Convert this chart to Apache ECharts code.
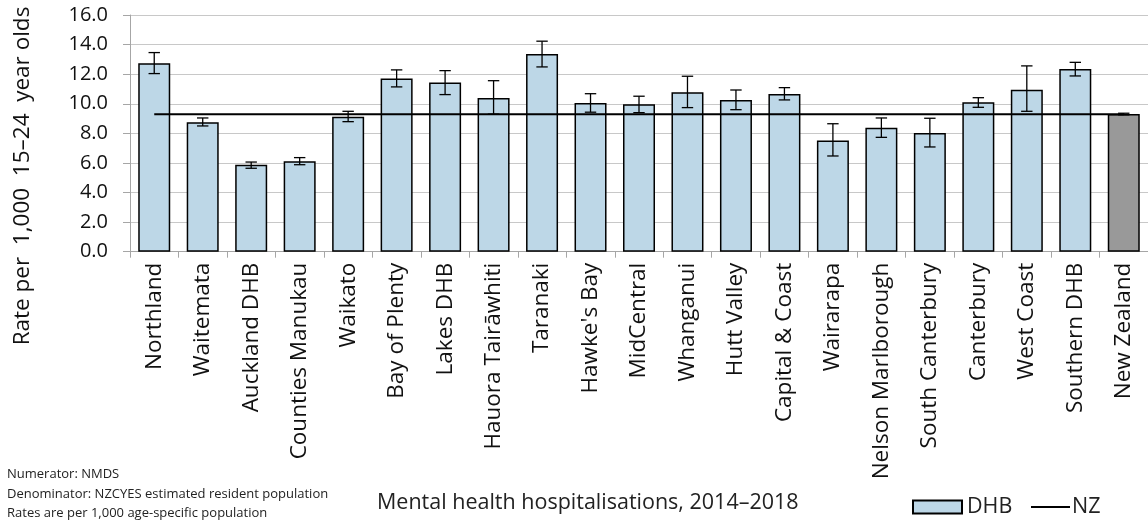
<!DOCTYPE html>
<html>
<head>
<meta charset="utf-8">
<script src="https://cdn.jsdelivr.net/npm/echarts@6/dist/echarts.min.js"></script>
<style>
html,body{margin:0;padding:0;background:#fff;}
#chart{width:1148px;height:526px;}
</style>
</head>
<body>
<div id="chart"></div>
<script>
const categories = ["Northland","Waitemata","Auckland DHB","Counties Manukau","Waikato","Bay of Plenty","Lakes DHB","Hauora Tairāwhiti","Taranaki","Hawke's Bay","MidCentral","Whanganui","Hutt Valley","Capital & Coast","Wairarapa","Nelson Marlborough","South Canterbury","Canterbury","West Coast","Southern DHB","New Zealand"];
const rates   = [12.74, 8.75, 5.88, 6.11, 9.13, 11.70, 11.43, 10.39, 13.37, 10.05, 9.97, 10.78, 10.26, 10.66, 7.51, 8.38, 8.03, 10.10, 10.95, 12.35, 9.31];
const ciLower = [12.04, 8.50, 5.64, 5.88, 8.79, 11.14, 10.62, 9.30, 12.49, 9.43, 9.40, 9.74, 9.60, 10.26, 6.47, 7.73, 7.08, 9.76, 9.49, 11.88, 9.25];
const ciUpper = [13.46, 9.04, 6.06, 6.36, 9.49, 12.29, 12.24, 11.56, 14.23, 10.68, 10.51, 11.86, 10.93, 11.09, 8.65, 9.04, 9.02, 10.41, 12.56, 12.80, 9.36];
const nzLine  = [9.29, 9.29, 9.29, 9.29, 9.29, 9.29, 9.29, 9.29, 9.29, 9.29, 9.29, 9.29, 9.29, 9.29, 9.29, 9.29, 9.29, 9.29, 9.29, 9.29, 9.29];
const yTicks = {min: 0, max: 16, interval: 2};
const yTitle = "Rate per  1,000  15–24  year olds";
const chartTitle = "Mental health hospitalisations, 2014–2018";
const footnotes = ["Numerator: NMDS", "Denominator: NZCYES estimated resident population", "Rates are per 1,000 age-specific population"];

const FONT = "'Open Sans', 'Noto Sans', sans-serif";
const chart = echarts.init(document.getElementById('chart'));

const barData = rates.map((v, i) => ({
  value: v,
  itemStyle: categories[i] === "New Zealand" ? {color: '#999999'} : undefined
}));
const errData = rates.map((v, i) => [i, ciLower[i], ciUpper[i]]);

chart.setOption({
  animation: false,
  textStyle: {fontFamily: FONT},
  title: [
    {text: chartTitle, left: 377, top: 492, padding: 0, textStyle: {fontFamily: FONT, fontSize: 21.5, fontWeight: 'normal', color: '#222'}},
    {text: footnotes.join('\n'), left: 7, top: 465, padding: 0, textStyle: {fontFamily: FONT, fontSize: 13, lineHeight: 19.5, fontWeight: 'normal', color: '#222'}}
  ],
  graphic: [
    {type: 'text', x: 23, y: 176, rotation: Math.PI / 2,
     style: {text: yTitle, font: "22.5px 'Open Sans', 'Noto Sans', sans-serif", fill: '#111', align: 'center', verticalAlign: 'middle'}}
  ],
  legend: [
    {data: [{name: 'DHB', icon: 'rect'}], left: 912, top: 496, padding: 0, itemWidth: 49, itemHeight: 13, itemGap: 4,
     textStyle: {fontFamily: FONT, fontSize: 21.5, color: '#222'}},
    {data: [{name: 'NZ', icon: 'rect'}], left: 1031, top: 496, padding: 0, itemWidth: 39, itemHeight: 2, itemGap: 4,
     textStyle: {fontFamily: FONT, fontSize: 21.5, color: '#222', padding: [0, 0, 0, -3]}}
  ],
  grid: {left: 130, top: 15, width: 1019.6, height: 236.7, containLabel: false},
  xAxis: {
    type: 'category',
    data: categories,
    axisLine: {lineStyle: {color: '#A6A6A6', width: 1}},
    axisTick: {show: true, length: 6, lineStyle: {color: '#A6A6A6'}},
    axisLabel: {rotate: 90, fontSize: 22.5, color: '#111', fontFamily: FONT, margin: 11, interval: 0}
  },
  yAxis: {
    type: 'value',
    min: yTicks.min, max: yTicks.max, interval: yTicks.interval,
    axisLine: {show: true, lineStyle: {color: '#A6A6A6'}},
    axisTick: {show: true, length: 7, lineStyle: {color: '#A6A6A6'}},
    axisLabel: {formatter: v => v.toFixed(1), fontSize: 20, color: '#111', fontFamily: FONT, margin: 22},
    splitLine: {lineStyle: {color: '#C8C8C8', width: 1}}
  },
  series: [
    {name: 'DHB', type: 'bar', data: barData, barWidth: 32,
     itemStyle: {color: '#BDD7E7', borderColor: '#000', borderWidth: 1.5}, z: 2},
    {name: 'NZ', type: 'line', data: nzLine, symbol: 'none', showSymbol: false,
     lineStyle: {color: '#000', width: 2}, itemStyle: {color: '#000'}, z: 3},
    {name: 'err', type: 'custom', data: errData, z: 4,
     renderItem: function (params, api) {
       const x = api.value(0);
       const lo = api.coord([x, api.value(1)]);
       const hi = api.coord([x, api.value(2)]);
       const cw = 5.7;
       const st = {stroke: '#000', lineWidth: 1.3};
       return {type: 'group', children: [
         {type: 'line', shape: {x1: lo[0], y1: lo[1], x2: hi[0], y2: hi[1]}, style: st},
         {type: 'line', shape: {x1: lo[0]-cw, y1: lo[1], x2: lo[0]+cw, y2: lo[1]}, style: st},
         {type: 'line', shape: {x1: hi[0]-cw, y1: hi[1], x2: hi[0]+cw, y2: hi[1]}, style: st}
       ]};
     }}
  ]
});
</script>
</body>
</html>
